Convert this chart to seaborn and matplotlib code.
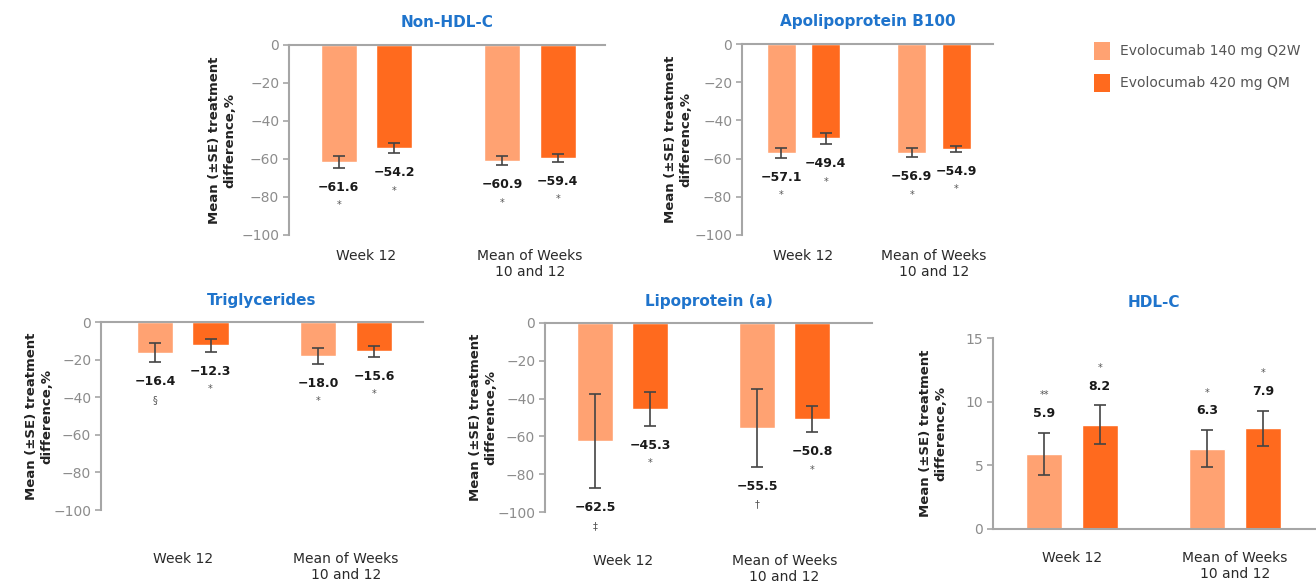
import matplotlib
matplotlib.use("Agg")
import matplotlib.pyplot as plt
from matplotlib.patches import Patch
import pandas as pd
import seaborn as sns

# ---- data -------------------------------------------------------------
categories = ["Week 12", "Mean of Weeks\n10 and 12"]
doses = ["Evolocumab 140 mg Q2W", "Evolocumab 420 mg QM"]
dose_colors = ["#FFA272", "#FF6A1E"]

# Non-HDL-C
nonhdl_140 = [-61.6, -60.9]
nonhdl_420 = [-54.2, -59.4]
nonhdl_se_140 = [3.0, 2.5]
nonhdl_se_420 = [2.8, 2.0]
nonhdl_note_140 = ["*", "*"]
nonhdl_note_420 = ["*", "*"]

# Apolipoprotein B100
apob_140 = [-57.1, -56.9]
apob_420 = [-49.4, -54.9]
apob_se_140 = [2.5, 2.5]
apob_se_420 = [3.0, 1.5]
apob_note_140 = ["*", "*"]
apob_note_420 = ["*", "*"]

# Triglycerides
tg_140 = [-16.4, -18.0]
tg_420 = [-12.3, -15.6]
tg_se_140 = [5.0, 4.3]
tg_se_420 = [3.5, 3.0]
tg_note_140 = ["§", "*"]
tg_note_420 = ["*", "*"]

# Lipoprotein (a)
lpa_140 = [-62.5, -55.5]
lpa_420 = [-45.3, -50.8]
lpa_se_140 = [25.0, 20.5]
lpa_se_420 = [9.0, 7.0]
lpa_note_140 = ["‡", "†"]
lpa_note_420 = ["*", "*"]

# HDL-C
hdl_140 = [5.9, 6.3]
hdl_420 = [8.2, 7.9]
hdl_se_140 = [1.65, 1.45]
hdl_se_420 = [1.5, 1.4]
hdl_note_140 = ["**", "*"]
hdl_note_420 = ["*", "*"]

neg_ticks = [0, -20, -40, -60, -80, -100]
pos_ticks = [0, 5, 10, 15]
ylabel_text = "Mean (±SE) treatment\ndifference,%"

# ---- style ------------------------------------------------------------
sns.set_theme(style="white")
plt.rcParams["font.family"] = ["DejaVu Sans"]

TITLE_COLOR = "#1F74CC"
AXIS_GRAY = "#A6A6A6"
TICK_GRAY = "#8C8C8C"
ERR_COLOR = "#444444"

W, H = 1316, 584
fig = plt.figure(figsize=(W / 100, H / 100), dpi=100)
fig.patch.set_facecolor("white")


def frame(v140, v420, se140, se420, n140, n420):
    rows = []
    for dose, vals, ses, notes in ((doses[0], v140, se140, n140),
                                   (doses[1], v420, se420, n420)):
        for cat, v, s, n in zip(categories, vals, ses, notes):
            rows.append(dict(category=cat, dose=dose, value=v, se=s, note=n))
    return pd.DataFrame(rows)


def axes_px(left, right, top, bottom):
    return fig.add_axes([left / W, 1 - bottom / H, (right - left) / W, (bottom - top) / H])


def panel(ax, df, title, ticks, xlim, tick_pad, title_pad, ylabel_px):
    positive = df["value"].min() > 0
    sns.barplot(data=df, x="category", y="value", hue="dose",
                order=categories, hue_order=doses, palette=dose_colors,
                saturation=1, width=0.68, gap=0.35, errorbar=None,
                legend=False, ax=ax, zorder=2)

    for p in ax.patches:
        cx = p.get_x() + p.get_width() / 2
        ci = int(round(cx))
        hi = 0 if cx < ci else 1
        row = df[(df["category"] == categories[ci]) & (df["dose"] == doses[hi])].iloc[0]
        ax.errorbar(cx, row["value"], yerr=row["se"], fmt="none",
                    ecolor=ERR_COLOR, elinewidth=1.2, capsize=4, capthick=1.2,
                    zorder=3)
        sign = 1 if positive else -1
        end = row["value"] + sign * row["se"]
        ax.annotate(f"{row['value']:.1f}".replace("-", "−"), (cx, end),
                    xytext=(0, sign * 14), textcoords="offset points",
                    ha="center", va="center", fontsize=9, fontweight="bold",
                    color="#1A1A1A", annotation_clip=False)
        ax.annotate(row["note"], (cx, end),
                    xytext=(0, sign * 27), textcoords="offset points",
                    ha="center", va="center", fontsize=7, color="#555555",
                    annotation_clip=False)

    ax.set_xlim(*xlim)
    ax.set_ylim(min(ticks), max(ticks))
    ax.set_yticks(ticks)
    ax.set_xlabel("")
    ax.set_ylabel(ylabel_text, fontsize=9.5, fontweight="bold", color="#222222")
    ax.yaxis.label.set_va("center")
    ax.yaxis.set_label_coords(-ylabel_px / ax.bbox.width, 0.5)
    ax.set_title(title, color=TITLE_COLOR, fontsize=11, fontweight="bold", pad=title_pad)

    for side in ("top", "bottom", "left", "right"):
        ax.spines[side].set_visible(False)
    ax.spines["left"].set_visible(True)
    ax.spines["left"].set_color(AXIS_GRAY)
    ax.spines["left"].set_linewidth(1.5)
    edge = "bottom" if positive else "top"
    ax.spines[edge].set_visible(True)
    ax.spines[edge].set_color(AXIS_GRAY)
    ax.spines[edge].set_linewidth(1.5)

    ax.tick_params(axis="y", which="both", left=True, length=4, width=1.2,
                   color=AXIS_GRAY, labelsize=10, labelcolor=TICK_GRAY, pad=3)
    ax.tick_params(axis="x", bottom=False, top=False, labelsize=10,
                   labelcolor="#2A2A2A", pad=tick_pad)
    ax.set_facecolor("none")


specs = [
    (frame(nonhdl_140, nonhdl_420, nonhdl_se_140, nonhdl_se_420, nonhdl_note_140, nonhdl_note_420),
     "Non-HDL-C", neg_ticks, (289, 605, 45, 235), (-0.474, 1.459), 4, 13, 67),
    (frame(apob_140, apob_420, apob_se_140, apob_se_420, apob_note_140, apob_note_420),
     "Apolipoprotein B100", neg_ticks, (742, 993, 44, 235), (-0.471, 1.452), 4, 13, 64),
    (frame(tg_140, tg_420, tg_se_140, tg_se_420, tg_note_140, tg_note_420),
     "Triglycerides", neg_ticks, (101, 423, 322, 510), (-0.50, 1.47), 24, 12, 62),
    (frame(lpa_140, lpa_420, lpa_se_140, lpa_se_420, lpa_note_140, lpa_note_420),
     "Lipoprotein (a)", neg_ticks, (545, 872, 323, 512), (-0.48, 1.54), 24, 12, 62),
    (frame(hdl_140, hdl_420, hdl_se_140, hdl_se_420, hdl_note_140, hdl_note_420),
     "HDL-C", pos_ticks, (993, 1315, 338, 529), (-0.484, 1.49), 10, 22, 60),
]

for df, title, ticks, box, xlim, tpad, ttl_pad, ylab in specs:
    ax = axes_px(*box)
    panel(ax, df, title, ticks, xlim, tpad, ttl_pad, ylab)

handles = [Patch(facecolor=c, edgecolor="none", label=d) for c, d in zip(dose_colors, doses)]
fig.legend(handles=handles, loc="upper left", bbox_to_anchor=(1094 / W, 1 - 42 / H),
           frameon=False, fontsize=10, handlelength=1.15, handleheight=1.6,
           labelspacing=1.0, handletextpad=0.7, borderaxespad=0, borderpad=0,
           labelcolor="#555555")

fig.savefig("out.png", dpi=100, facecolor="white")
